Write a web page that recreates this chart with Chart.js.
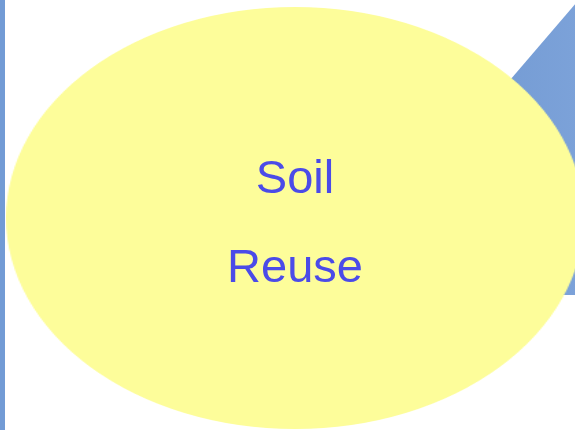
<!DOCTYPE html>
<html>
<head>
<meta charset="utf-8">
<script src="https://cdn.jsdelivr.net/npm/chart.js@4"></script>
<style>
    html, body { margin: 0; padding: 0; background: #fff; }
    #stage { position: relative; width: 575px; height: 430px; overflow: hidden; }
    #backChart { position: absolute; left: 0; top: 0; }
    #ovalWrap { position: absolute; left: 6px; top: 7px; width: 422px; height: 422px;
        transform-origin: 0 0; transform: scaleX(1.3697); }
    .label { position: absolute; left: 0; width: 590px; text-align: center;
        font-family: 'Liberation Sans', Arial, sans-serif; font-size: 47px; line-height: 47px;
        color: #4b4be8; }
</style>
</head>
<body>
<div id="stage">
    <canvas id="backChart" width="575" height="430"></canvas>
    <div id="ovalWrap"><canvas id="ovalChart" width="422" height="422"></canvas></div>
    <div class="label" id="line1"></div>
    <div class="label" id="line2"></div>
</div>
<script>
// ===== DATA =====
const textLines = ['Soil', 'Reuse'];
const ovalValues = [1];
const triangleX = [325.7, 579.4];
const triangleY = [295, -1];
const triangleBase = 295;
const barX = [0, 5];
const barY = [0, 0];
const barBase = 430;

// ===== TEXT =====
document.getElementById('line1').textContent = textLines[0];
document.getElementById('line1').style.top = '153px';
document.getElementById('line2').textContent = textLines[1];
document.getElementById('line2').style.top = '242px';

function toPoints(xs, ys) {
    return xs.map((x, i) => ({ x: x, y: ys[i] }));
}

function triangleFill(context) {
    const chart = context.chart;
    if (!chart.chartArea) return '#7099d2';
    const x0 = chart.scales.x.getPixelForValue(triangleX[0]);
    const x1 = chart.scales.x.getPixelForValue(triangleX[1]);
    const g = chart.ctx.createLinearGradient(x0, 0, x1, 0);
    g.addColorStop(0, '#6690ca');
    g.addColorStop(1, '#7ca2d9');
    return g;
}

// ===== BACK LAYER: triangle + edge bar =====
new Chart(document.getElementById('backChart'), {
    type: 'scatter',
    data: {
        datasets: [{
            data: toPoints(triangleX, triangleY),
            showLine: true,
            borderWidth: 0,
            pointRadius: 0,
            backgroundColor: triangleFill,
            fill: { value: triangleBase }
        }, {
            data: toPoints(barX, barY),
            showLine: true,
            borderWidth: 0,
            pointRadius: 0,
            backgroundColor: '#729bd5',
            fill: { value: barBase }
        }]
    },
    options: {
        responsive: false,
        animation: false,
        events: [],
        layout: { padding: 0 },
        plugins: { legend: { display: false }, tooltip: { enabled: false } },
        scales: {
            x: { type: 'linear', min: 0, max: 575, display: false },
            y: { type: 'linear', min: 0, max: 430, reverse: true, display: false }
        }
    }
});

// ===== OVAL =====
new Chart(document.getElementById('ovalChart'), {
    type: 'pie',
    data: {
        labels: textLines,
        datasets: [{
            data: ovalValues,
            backgroundColor: '#fdfd9a',
            borderWidth: 0,
            hoverOffset: 0,
            offset: 0
        }]
    },
    options: {
        responsive: false,
        animation: false,
        events: [],
        layout: { padding: 0 },
        plugins: { legend: { display: false }, tooltip: { enabled: false } }
    }
});
</script>
</body>
</html>
